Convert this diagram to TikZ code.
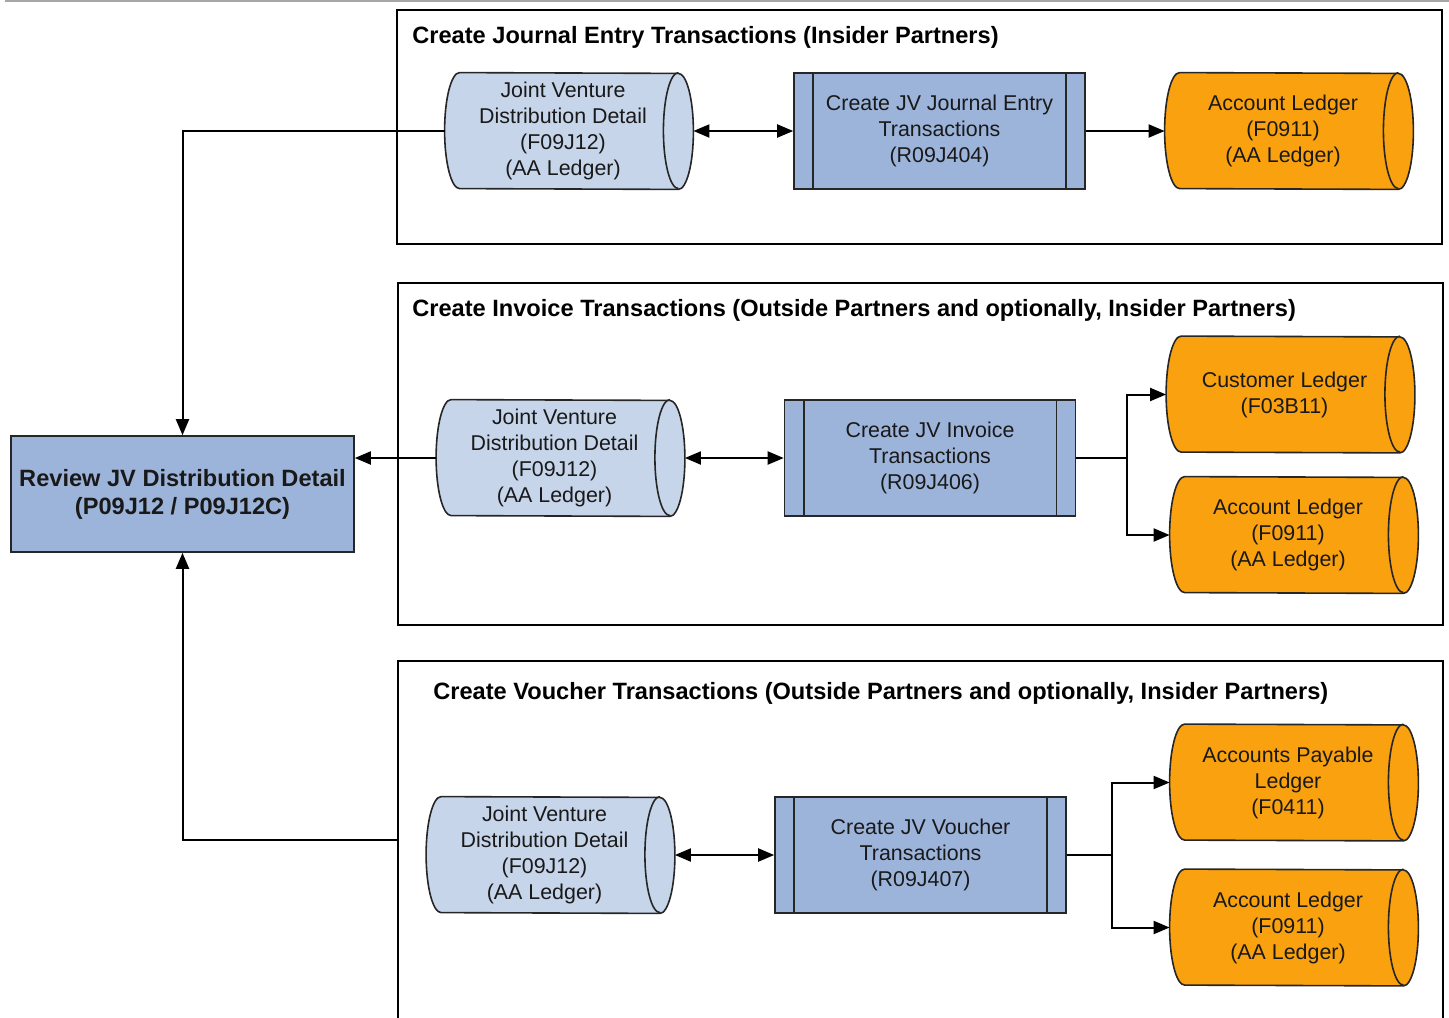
\documentclass[tikz,border=0pt]{standalone}
\usepackage{fontspec}
\setmainfont{Liberation Sans}
\usetikzlibrary{arrows.meta,backgrounds}
\definecolor{cylblue}{HTML}{C6D5EA}
\definecolor{procblue}{HTML}{9DB4DA}
\definecolor{ledgerorange}{HTML}{F9A10F}
% the text node sits 3pt left of the drawn body (as in the reference)
\newcommand\drawcyl[2]{%
  \path[fill=#2, draw=black!85, line width=0.8pt] ([xshift=3pt]#1.north west)
    arc[start angle=90, end angle=270, x radius=7.5pt, y radius=29pt]
    -- ([xshift=3pt]#1.south east)
    arc[start angle=-90, end angle=90, x radius=7.5pt, y radius=29pt] -- cycle;
  \draw[black!85, line width=0.8pt] ([xshift=3pt]#1.north east)
    arc[start angle=90, end angle=270, x radius=7.5pt, y radius=29pt];
  \coordinate (#1l) at ([xshift=-4.5pt]#1.west);
  \coordinate (#1r) at ([xshift=10.5pt]#1.east);
}
\newcommand\proclines[1]{%
  \draw[black!85, line width=0.8pt] ([xshift=10pt]#1.north west) -- ([xshift=10pt]#1.south west);
  \draw[black!85, line width=0.8pt] ([xshift=-10pt]#1.north east) -- ([xshift=-10pt]#1.south east);
}
\begin{document}
\begin{tikzpicture}[x=0.5pt,y=-0.5pt,
  frame/.style={draw=black, line width=1pt, inner sep=0pt},
  title/.style={anchor=west, inner sep=0pt, font=\fontsize{11.8pt}{14pt}\selectfont\bfseries},
  body/.style={inner sep=0pt, align=center, font=\fontsize{10.7pt}{13pt}\selectfont, text=black!90},
  cylbox/.style={body, draw=none, minimum width=109pt, minimum height=58pt},
  procbox/.style={body, draw=black!85, line width=0.8pt, fill=procblue, minimum width=145.5pt, minimum height=58pt},
  conn/.style={line width=1pt, draw=black},
  tip/.style={-{Triangle[length=8pt,width=6.5pt]}},
  both/.style={{Triangle[length=8pt,width=6.5pt]}-{Triangle[length=8pt,width=6.5pt]}}
]
\useasboundingbox (0,0) rectangle (1449,1017);
\clip (0,0) rectangle (1449,1017);
\draw[gray!70, line width=1pt] (5,1) -- (1449,1);

% frames
\node[frame, minimum width=522.5pt, minimum height=117pt] (f1) at (919.5,127) {};
\node[frame, minimum width=522.5pt, minimum height=171pt] (f2) at (920.5,454) {};
\node[frame, minimum width=522.5pt, minimum height=189.5pt] (f3) at (920.5,850.5) {};

% titles
\node[title] (t1) at (412,37) {Create Journal Entry Transactions (Insider Partners)};
\node[title] (t2) at (412,310) {Create Invoice Transactions (Outside Partners and optionally, Insider Partners)};
\node[title] (t3) at (433,693) {Create Voucher Transactions (Outside Partners and optionally, Insider Partners)};

% review box
\node[procbox, minimum width=171.5pt, minimum height=58pt,
      font=\fontsize{11.8pt}{14pt}\selectfont\bfseries] (rv) at (182.5,494)
  {Review JV Distribution Detail\\(P09J12 / P09J12C)};

% row 1
\node[cylbox] (ca) at (563,131) {Joint Venture\\Distribution Detail\\(F09J12)\\(AA Ledger)};
\node[procbox] (pa) at (939.5,131) {Create JV Journal Entry\\Transactions\\(R09J404)};
\node[cylbox] (oa) at (1283,131) {Account Ledger\\(F0911)\\(AA Ledger)};

% row 2
\node[cylbox] (cb) at (554.5,458) {Joint Venture\\Distribution Detail\\(F09J12)\\(AA Ledger)};
\node[procbox] (pb) at (930,458) {Create JV Invoice\\Transactions\\(R09J406)};
\node[cylbox] (ob) at (1284.5,394.5) {Customer Ledger\\(F03B11)};
\node[cylbox] (oc) at (1288,535) {Account Ledger\\(F0911)\\(AA Ledger)};

% row 3
\node[cylbox] (cc) at (544.5,855) {Joint Venture\\Distribution Detail\\(F09J12)\\(AA Ledger)};
\node[procbox] (pc) at (920.5,855) {Create JV Voucher\\Transactions\\(R09J407)};
\node[cylbox] (od) at (1288,782.5) {Accounts Payable\\Ledger\\(F0411)};
\node[cylbox] (oe) at (1288,927.5) {Account Ledger\\(F0911)\\(AA Ledger)};

\begin{scope}[on background layer]
  \drawcyl{ca}{cylblue}
  \drawcyl{cb}{cylblue}
  \drawcyl{cc}{cylblue}
  \drawcyl{oa}{ledgerorange}
  \drawcyl{ob}{ledgerorange}
  \drawcyl{oc}{ledgerorange}
  \drawcyl{od}{ledgerorange}
  \drawcyl{oe}{ledgerorange}
\end{scope}
\proclines{pa}
\proclines{pb}
\proclines{pc}

% connectors
\coordinate (jb) at (1127,458);
\coordinate (jc) at (1112,855);
\coordinate (f3l) at (398,840);

\draw[conn, tip] (cal) -| (rv.north);
\draw[conn, both] (car) -- (pa.west);
\draw[conn, tip] (pa.east) -- (oal);

\draw[conn, tip] (cbl) -- (cbl -| rv.east);
\draw[conn, both] (cbr) -- (pb.west);
\draw[conn] (pb.east) -- (jb);
\draw[conn, tip] (jb) |- (obl);
\draw[conn, tip] (jb) |- (ocl);

\draw[conn, tip] (f3l) -| (rv.south);
\draw[conn, both] (ccr) -- (pc.west);
\draw[conn] (pc.east) -- (jc);
\draw[conn, tip] (jc) |- (odl);
\draw[conn, tip] (jc) |- (oel);
\end{tikzpicture}
\end{document}
